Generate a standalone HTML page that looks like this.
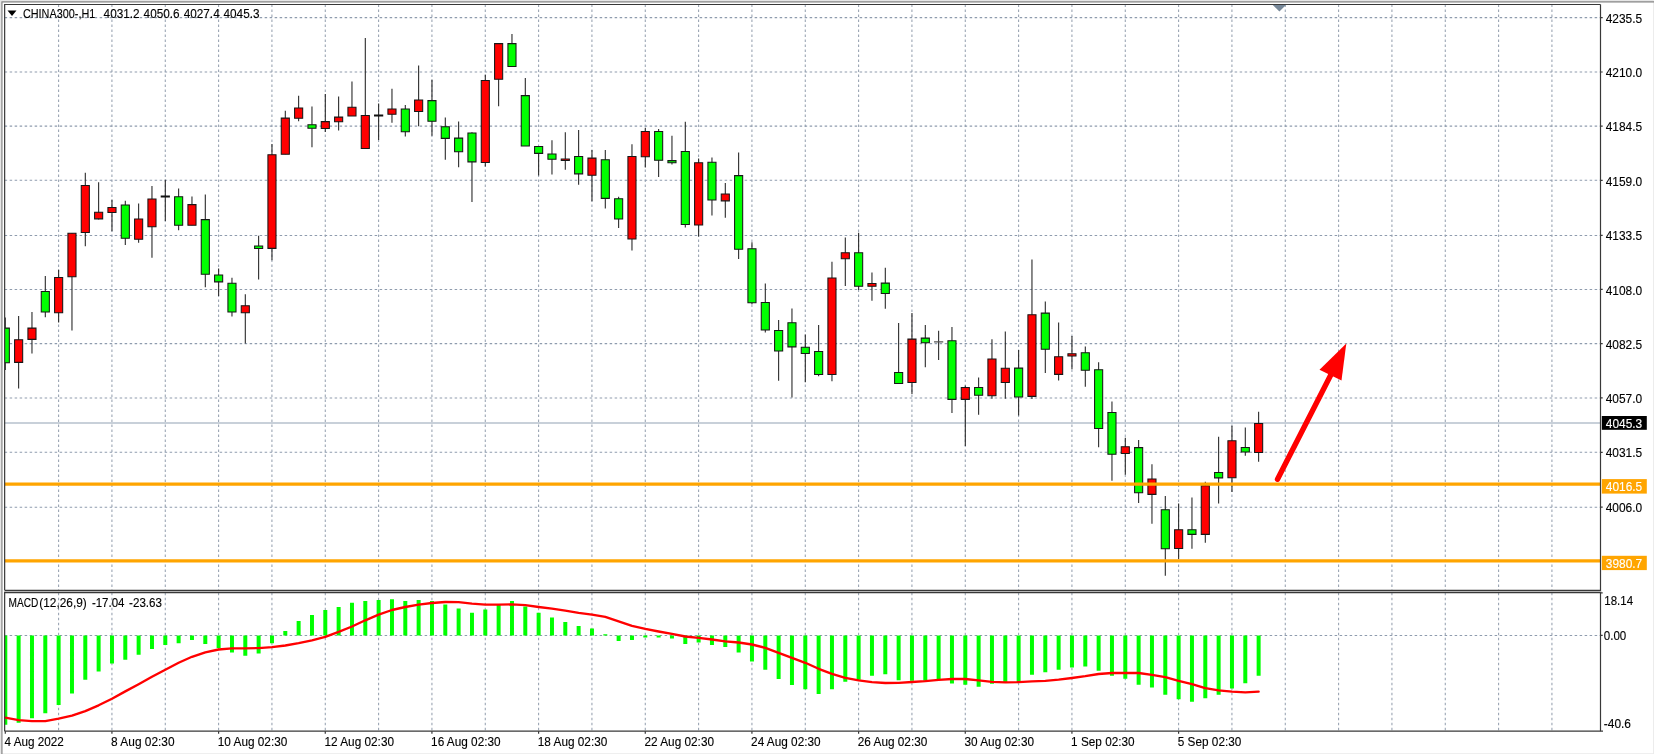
<!DOCTYPE html>
<html lang="en"><head><meta charset="utf-8"><title>CHINA300-,H1</title>
<style>html,body{margin:0;padding:0;background:#fff;overflow:hidden}body{width:1654px;height:754px}svg text{font-family:"Liberation Sans",Arial,sans-serif}</style>
</head><body>
<svg width="1654" height="754" viewBox="0 0 1654 754" style="display:block;filter:blur(0.3px)">
<rect x="0" y="0" width="1654" height="754" fill="#ffffff"/>
<rect x="0" y="0" width="1654" height="1.1" fill="#e6e6e6"/>
<rect x="0" y="0" width="1.1" height="754" fill="#e6e6e6"/>
<rect x="1653" y="0" width="1" height="754" fill="#ececec"/>
<rect x="0" y="753.2" width="1654" height="0.8" fill="#ececec"/>
<path d="M1.9 754 V1.8 H1654" fill="none" stroke="#808080" stroke-width="1.2"/>
<defs><clipPath id="c1"><rect x="4.65" y="4.5" width="1595.85" height="585.85"/></clipPath><clipPath id="c2"><rect x="4.65" y="592.65" width="1595.85" height="138.55000000000007"/></clipPath></defs>
<path d="M58.60 4.5 V590.35M58.60 592.65 V731.2M111.93 4.5 V590.35M111.93 592.65 V731.2M165.27 4.5 V590.35M165.27 592.65 V731.2M218.60 4.5 V590.35M218.60 592.65 V731.2M271.93 4.5 V590.35M271.93 592.65 V731.2M325.27 4.5 V590.35M325.27 592.65 V731.2M378.60 4.5 V590.35M378.60 592.65 V731.2M431.93 4.5 V590.35M431.93 592.65 V731.2M485.27 4.5 V590.35M485.27 592.65 V731.2M538.60 4.5 V590.35M538.60 592.65 V731.2M591.93 4.5 V590.35M591.93 592.65 V731.2M645.27 4.5 V590.35M645.27 592.65 V731.2M698.60 4.5 V590.35M698.60 592.65 V731.2M751.93 4.5 V590.35M751.93 592.65 V731.2M805.27 4.5 V590.35M805.27 592.65 V731.2M858.60 4.5 V590.35M858.60 592.65 V731.2M911.93 4.5 V590.35M911.93 592.65 V731.2M965.27 4.5 V590.35M965.27 592.65 V731.2M1018.60 4.5 V590.35M1018.60 592.65 V731.2M1071.93 4.5 V590.35M1071.93 592.65 V731.2M1125.27 4.5 V590.35M1125.27 592.65 V731.2M1178.60 4.5 V590.35M1178.60 592.65 V731.2M1231.93 4.5 V590.35M1231.93 592.65 V731.2M1285.27 4.5 V590.35M1285.27 592.65 V731.2M1338.60 4.5 V590.35M1338.60 592.65 V731.2M1391.93 4.5 V590.35M1391.93 592.65 V731.2M1445.27 4.5 V590.35M1445.27 592.65 V731.2M1498.60 4.5 V590.35M1498.60 592.65 V731.2M1551.93 4.5 V590.35M1551.93 592.65 V731.2" fill="none" stroke="#96a1b0" stroke-width="1.05" stroke-dasharray="2.6 2.4"/>
<path d="M4.65 17.60 H1600.5M4.65 72.00 H1600.5M4.65 126.10 H1600.5M4.65 180.30 H1600.5M4.65 235.40 H1600.5M4.65 289.40 H1600.5M4.65 343.60 H1600.5M4.65 397.90 H1600.5M4.65 452.30 H1600.5M4.65 507.20 H1600.5M4.65 635.4 H1600.5" fill="none" stroke="#8f9cae" stroke-width="1.05" stroke-dasharray="2.5 2.5"/>
<path d="M4.65 423.05 H1600.5" stroke="#b6c0cc" stroke-width="1.5" fill="none"/>
<g clip-path="url(#c1)">
<path d="M5.30 317.5 V370.0M18.63 315.9 V388.4M31.97 312.1 V353.4M45.30 276.1 V317.2M58.63 269.8 V322.6M71.97 232.9 V330.5M85.30 172.7 V246.2M98.63 182.3 V219.5M111.97 199.8 V231.3M125.30 200.7 V245.0M138.63 203.6 V242.7M151.97 186.1 V257.7M165.30 179.7 V221.1M178.63 188.6 V230.3M191.97 196.6 V225.2M205.30 194.4 V287.3M218.63 268.5 V295.9M231.97 277.7 V316.5M245.30 294.3 V343.6M258.63 235.7 V279.6M271.97 144.1 V260.2M285.30 110.7 V154.3M298.63 95.7 V121.2M311.97 106.5 V147.3M325.30 94.1 V132.0M338.63 96.4 V130.4M351.97 81.4 V116.1M365.30 38.1 V148.5M378.63 103.4 V140.0M391.97 88.7 V122.8M405.30 105.0 V136.5M418.63 65.5 V126.3M431.97 79.8 V135.8M445.30 117.4 V159.7M458.63 121.5 V167.3M471.97 132.3 V202.0M485.30 74.7 V166.4M498.63 43.2 V106.2M511.97 34.0 V67.0M525.30 78.1 V146.1M538.63 146.1 V175.5M551.97 140.2 V174.5M565.30 132.2 V169.8M578.63 130.0 V184.7M591.97 150.0 V201.3M605.30 150.0 V208.6M618.63 196.8 V228.0M631.97 144.3 V250.6M645.30 127.8 V167.5M658.63 129.0 V177.1M671.96 135.7 V164.4M685.30 121.7 V227.4M698.63 158.6 V236.6M711.96 157.4 V215.6M725.30 183.1 V217.8M738.63 152.6 V258.9M751.96 242.3 V304.3M765.30 283.6 V332.6M778.63 319.9 V380.7M791.96 308.4 V397.5M805.30 334.5 V382.3M818.63 325.0 V376.2M831.96 261.7 V381.3M845.30 237.5 V285.9M858.63 232.7 V290.0M871.96 272.5 V300.8M885.30 267.7 V308.8M898.63 323.1 V383.5M911.96 312.9 V394.0M925.30 325.0 V367.3M938.63 330.7 V360.0M951.96 326.9 V413.1M965.30 385.4 V445.9M978.63 377.5 V414.7M991.96 339.2 V398.8M1005.30 331.6 V398.7M1018.63 349.9 V415.4M1031.96 259.5 V398.9M1045.30 301.5 V373.1M1058.63 322.5 V380.4M1071.96 335.9 V369.3M1085.30 346.4 V386.8M1098.63 362.3 V447.3M1111.96 401.5 V480.8M1125.30 437.8 V474.8M1138.63 439.9 V502.9M1151.96 464.2 V523.8M1165.30 496.0 V575.8M1178.63 503.4 V559.1M1191.96 497.6 V548.8M1205.30 481.7 V542.7M1218.63 436.7 V503.4M1231.96 425.8 V492.0M1245.30 427.4 V455.8M1258.63 411.8 V461.7" stroke="#262626" stroke-width="1.08" fill="none"/>
<path d="M160.70 196.6 H169.90M374.03 115.5 H383.23" stroke="#111" stroke-width="2" fill="none"/>
<path d="M934.03 341.9 H943.23" stroke="#555" stroke-width="1.2" fill="none"/>
<path d="M14.58 339.80 H22.68 V362.35 H14.58 ZM27.92 328.10 H36.02 V339.35 H27.92 ZM54.58 277.50 H62.68 V312.65 H54.58 ZM67.92 233.30 H76.02 V276.75 H67.92 ZM81.25 185.50 H89.35 V232.45 H81.25 ZM94.58 212.30 H102.68 V218.85 H94.58 ZM107.92 207.50 H116.02 V212.45 H107.92 ZM134.58 218.90 H142.68 V239.15 H134.58 ZM147.92 198.90 H156.02 V226.75 H147.92 ZM187.92 204.60 H196.02 V225.15 H187.92 ZM241.25 305.80 H249.35 V312.65 H241.25 ZM267.92 154.70 H276.02 V248.35 H267.92 ZM281.25 118.10 H289.35 V154.25 H281.25 ZM294.58 107.90 H302.68 V118.25 H294.58 ZM321.25 121.60 H329.35 V128.45 H321.25 ZM334.58 117.10 H342.68 V121.75 H334.58 ZM347.92 107.30 H356.02 V116.05 H347.92 ZM361.25 115.50 H369.35 V148.45 H361.25 ZM387.92 108.90 H396.02 V114.15 H387.92 ZM414.58 99.90 H422.68 V111.55 H414.58 ZM481.25 80.50 H489.35 V162.45 H481.25 ZM494.58 43.60 H502.68 V79.15 H494.58 ZM561.25 159.00 H569.35 V160.45 H561.25 ZM587.92 158.10 H596.02 V175.15 H587.92 ZM627.92 156.50 H636.02 V239.05 H627.92 ZM641.25 131.40 H649.35 V156.65 H641.25 ZM694.58 162.80 H702.68 V225.05 H694.58 ZM721.25 194.00 H729.35 V200.85 H721.25 ZM827.91 278.00 H836.01 V374.55 H827.91 ZM841.25 252.80 H849.35 V258.75 H841.25 ZM867.91 283.40 H876.01 V286.15 H867.91 ZM907.91 339.10 H916.01 V382.55 H907.91 ZM961.25 387.40 H969.35 V399.35 H961.25 ZM987.91 359.00 H996.01 V395.75 H987.91 ZM1001.25 368.20 H1009.35 V382.55 H1001.25 ZM1027.91 314.70 H1036.01 V396.35 H1027.91 ZM1054.58 356.70 H1062.68 V374.35 H1054.58 ZM1067.91 353.80 H1076.01 V355.95 H1067.91 ZM1121.25 446.70 H1129.35 V453.55 H1121.25 ZM1147.91 478.90 H1156.01 V494.35 H1147.91 ZM1174.58 529.80 H1182.68 V548.45 H1174.58 ZM1201.25 485.80 H1209.35 V534.35 H1201.25 ZM1227.91 440.70 H1236.01 V477.75 H1227.91 ZM1254.58 423.40 H1262.68 V452.55 H1254.58 Z" stroke="#161616" stroke-width="1.05" fill="#ff0000"/>
<path d="M1.25 328.10 H9.35 V362.65 H1.25 ZM41.25 291.50 H49.35 V312.05 H41.25 ZM121.25 204.90 H129.35 V238.25 H121.25 ZM174.58 196.70 H182.68 V225.15 H174.58 ZM201.25 219.60 H209.35 V274.15 H201.25 ZM214.58 274.90 H222.68 V281.85 H214.58 ZM227.92 283.20 H236.02 V312.05 H227.92 ZM254.58 245.90 H262.68 V248.45 H254.58 ZM307.92 124.80 H316.02 V128.15 H307.92 ZM401.25 108.90 H409.35 V131.65 H401.25 ZM427.92 100.60 H436.02 V121.15 H427.92 ZM441.25 126.70 H449.35 V138.35 H441.25 ZM454.58 138.10 H462.68 V151.65 H454.58 ZM467.92 133.00 H476.02 V161.85 H467.92 ZM507.92 43.60 H516.02 V66.45 H507.92 ZM521.25 95.60 H529.35 V146.05 H521.25 ZM534.58 146.50 H542.68 V153.35 H534.58 ZM547.92 153.90 H556.02 V159.25 H547.92 ZM574.58 156.50 H582.68 V173.85 H574.58 ZM601.25 159.70 H609.35 V198.35 H601.25 ZM614.58 198.80 H622.68 V219.05 H614.58 ZM654.58 131.40 H662.68 V160.15 H654.58 ZM667.91 160.60 H676.01 V162.75 H667.91 ZM681.25 151.40 H689.35 V224.45 H681.25 ZM707.91 162.20 H716.01 V199.95 H707.91 ZM734.58 175.60 H742.68 V249.25 H734.58 ZM747.91 248.70 H756.01 V302.65 H747.91 ZM761.25 302.50 H769.35 V330.05 H761.25 ZM774.58 330.50 H782.68 V351.05 H774.58 ZM787.91 322.80 H796.01 V346.85 H787.91 ZM801.25 347.30 H809.35 V353.55 H801.25 ZM814.58 351.50 H822.68 V374.55 H814.58 ZM854.58 252.80 H862.68 V286.15 H854.58 ZM881.25 283.10 H889.35 V293.45 H881.25 ZM894.58 372.50 H902.68 V383.45 H894.58 ZM921.25 338.10 H929.35 V342.75 H921.25 ZM947.91 340.70 H956.01 V399.35 H947.91 ZM974.58 387.40 H982.68 V395.25 H974.58 ZM1014.58 368.10 H1022.68 V396.95 H1014.58 ZM1041.25 313.10 H1049.35 V349.25 H1041.25 ZM1081.25 352.80 H1089.35 V370.25 H1081.25 ZM1094.58 369.70 H1102.68 V428.45 H1094.58 ZM1107.91 412.40 H1116.01 V454.15 H1107.91 ZM1134.58 447.60 H1142.68 V492.75 H1134.58 ZM1161.25 509.70 H1169.35 V548.75 H1161.25 ZM1187.91 529.80 H1196.01 V534.35 H1187.91 ZM1214.58 472.50 H1222.68 V477.85 H1214.58 ZM1241.25 447.50 H1249.35 V451.95 H1241.25 Z" stroke="#161616" stroke-width="1.05" fill="#00ff00"/>
<path d="M4.65 484.2 H1601.5 M4.65 560.8 H1601.5" stroke="#ffa500" stroke-width="3.3" fill="none"/>
<path d="M1277.5 479.3 L1331 374.5" stroke="#ff0000" stroke-width="5.4" stroke-linecap="round" fill="none"/>
<path d="M1346.3 343.4 L1319.5 369.7 L1341.5 380.4 Z" fill="#ff0000"/>
<path d="M1272.8 5 H1286 L1279.4 11.6 Z" fill="#778899"/>
</g>
<g clip-path="url(#c2)">
<path d="M3.30 635.4 H7.30 V724.7 H3.30 ZM16.63 635.4 H20.63 V722.7 H16.63 ZM29.97 635.4 H33.97 V718.3 H29.97 ZM43.30 635.4 H47.30 V713.3 H43.30 ZM56.63 635.4 H60.63 V705.1 H56.63 ZM69.97 635.4 H73.97 V693.4 H69.97 ZM83.30 635.4 H87.30 V679.8 H83.30 ZM96.63 635.4 H100.63 V671.6 H96.63 ZM109.97 635.4 H113.97 V663.4 H109.97 ZM123.30 635.4 H127.30 V659.8 H123.30 ZM136.63 635.4 H140.63 V654.8 H136.63 ZM149.97 635.4 H153.97 V649.1 H149.97 ZM163.30 635.4 H167.30 V644.9 H163.30 ZM176.63 635.4 H180.63 V643.3 H176.63 ZM189.97 635.4 H193.97 V639.9 H189.97 ZM203.30 635.4 H207.30 V644.1 H203.30 ZM216.63 635.4 H220.63 V647.9 H216.63 ZM229.97 635.4 H233.97 V652.6 H229.97 ZM243.30 635.4 H247.30 V655.8 H243.30 ZM256.63 635.4 H260.63 V653.4 H256.63 ZM269.97 635.4 H273.97 V643.3 H269.97 ZM283.30 631.1 H287.30 V635.4 H283.30 ZM296.63 621.1 H300.63 V635.4 H296.63 ZM309.97 615.1 H313.97 V635.4 H309.97 ZM323.30 610.0 H327.30 V635.4 H323.30 ZM336.63 607.0 H340.63 V635.4 H336.63 ZM349.97 602.8 H353.97 V635.4 H349.97 ZM363.30 601.0 H367.30 V635.4 H363.30 ZM376.63 600.0 H380.63 V635.4 H376.63 ZM389.97 599.2 H393.97 V635.4 H389.97 ZM403.30 601.0 H407.30 V635.4 H403.30 ZM416.63 600.0 H420.63 V635.4 H416.63 ZM429.97 601.0 H433.97 V635.4 H429.97 ZM443.30 604.4 H447.30 V635.4 H443.30 ZM456.63 608.4 H460.63 V635.4 H456.63 ZM469.97 612.7 H473.97 V635.4 H469.97 ZM483.30 609.4 H487.30 V635.4 H483.30 ZM496.63 605.0 H500.63 V635.4 H496.63 ZM509.97 601.0 H513.97 V635.4 H509.97 ZM523.30 606.4 H527.30 V635.4 H523.30 ZM536.63 612.7 H540.63 V635.4 H536.63 ZM549.97 617.5 H553.97 V635.4 H549.97 ZM563.30 621.9 H567.30 V635.4 H563.30 ZM576.63 625.9 H580.63 V635.4 H576.63 ZM589.97 628.5 H593.97 V635.4 H589.97 ZM603.30 634.3 H607.30 V635.4 H603.30 ZM616.63 635.4 H620.63 V640.9 H616.63 ZM629.97 635.4 H633.97 V639.9 H629.97 ZM643.30 635.4 H647.30 V637.5 H643.30 ZM656.63 635.4 H660.63 V637.5 H656.63 ZM669.96 635.4 H673.96 V638.5 H669.96 ZM683.30 635.4 H687.30 V644.1 H683.30 ZM696.63 635.4 H700.63 V642.5 H696.63 ZM709.96 635.4 H713.96 V644.9 H709.96 ZM723.30 635.4 H727.30 V646.9 H723.30 ZM736.63 635.4 H740.63 V652.5 H736.63 ZM749.96 635.4 H753.96 V661.4 H749.96 ZM763.30 635.4 H767.30 V669.8 H763.30 ZM776.63 635.4 H780.63 V679.0 H776.63 ZM789.96 635.4 H793.96 V685.0 H789.96 ZM803.30 635.4 H807.30 V689.2 H803.30 ZM816.63 635.4 H820.63 V694.1 H816.63 ZM829.96 635.4 H833.96 V689.2 H829.96 ZM843.30 635.4 H847.30 V681.8 H843.30 ZM856.63 635.4 H860.63 V679.8 H856.63 ZM869.96 635.4 H873.96 V675.8 H869.96 ZM883.30 635.4 H887.30 V674.2 H883.30 ZM896.63 635.4 H900.63 V680.2 H896.63 ZM909.96 635.4 H913.96 V680.8 H909.96 ZM923.30 635.4 H927.30 V680.8 H923.30 ZM936.63 635.4 H940.63 V679.2 H936.63 ZM949.96 635.4 H953.96 V683.4 H949.96 ZM963.30 635.4 H967.30 V684.8 H963.30 ZM976.63 635.4 H980.63 V686.8 H976.63 ZM989.96 635.4 H993.96 V683.8 H989.96 ZM1003.30 635.4 H1007.30 V682.2 H1003.30 ZM1016.63 635.4 H1020.63 V682.2 H1016.63 ZM1029.96 635.4 H1033.96 V674.8 H1029.96 ZM1043.30 635.4 H1047.30 V672.2 H1043.30 ZM1056.63 635.4 H1060.63 V669.8 H1056.63 ZM1069.96 635.4 H1073.96 V667.4 H1069.96 ZM1083.30 635.4 H1087.30 V666.4 H1083.30 ZM1096.63 635.4 H1100.63 V670.8 H1096.63 ZM1109.96 635.4 H1113.96 V675.8 H1109.96 ZM1123.30 635.4 H1127.30 V678.8 H1123.30 ZM1136.63 635.4 H1140.63 V684.8 H1136.63 ZM1149.96 635.4 H1153.96 V687.4 H1149.96 ZM1163.30 635.4 H1167.30 V694.7 H1163.30 ZM1176.63 635.4 H1180.63 V699.3 H1176.63 ZM1189.96 635.4 H1193.96 V701.7 H1189.96 ZM1203.30 635.4 H1207.30 V698.3 H1203.30 ZM1216.63 635.4 H1220.63 V694.7 H1216.63 ZM1229.96 635.4 H1233.96 V688.4 H1229.96 ZM1243.30 635.4 H1247.30 V683.2 H1243.30 ZM1256.63 635.4 H1260.63 V675.8 H1256.63 Z" fill="#00ff00"/>
<polyline points="5.30,717.7 18.63,720.1 31.97,721.1 45.30,721.1 58.63,718.7 71.97,715.7 85.30,711.1 98.63,705.3 111.97,698.7 125.30,691.4 138.63,684.2 151.97,676.8 165.30,669.8 178.63,662.8 191.97,656.8 205.30,652.3 218.63,649.5 231.97,648.3 245.30,648.3 258.63,648.1 271.97,647.1 285.30,645.5 298.63,643.1 311.97,640.3 325.30,636.9 338.63,631.9 351.97,626.5 365.30,620.3 378.63,614.7 391.97,610.0 405.30,607.0 418.63,604.6 431.97,603.0 445.30,602.0 458.63,602.2 471.97,603.6 485.30,604.6 498.63,604.6 511.97,604.4 525.30,605.2 538.63,607.0 551.97,608.6 565.30,610.6 578.63,612.9 591.97,614.7 605.30,616.9 618.63,621.3 631.97,625.9 645.30,628.9 658.63,631.5 671.96,633.9 685.30,636.5 698.63,637.9 711.96,639.5 725.30,641.3 738.63,642.5 751.96,644.5 765.30,647.9 778.63,652.8 791.96,657.8 805.30,662.8 818.63,668.8 831.96,673.8 845.30,677.8 858.63,680.4 871.96,682.2 885.30,683.0 898.63,682.8 911.96,682.0 925.30,681.2 938.63,679.8 951.96,679.0 965.30,679.0 978.63,680.4 991.96,681.8 1005.30,682.4 1018.63,682.2 1031.96,681.4 1045.30,680.8 1058.63,679.6 1071.96,678.0 1085.30,676.2 1098.63,674.0 1111.96,673.0 1125.30,673.0 1138.63,673.0 1151.96,674.8 1165.30,677.2 1178.63,680.8 1191.96,684.2 1205.30,688.2 1218.63,690.4 1231.96,691.6 1245.30,692.4 1258.63,691.6" fill="none" stroke="#ff0000" stroke-width="2.35" stroke-linejoin="round" stroke-linecap="round"/>
</g>
<path d="M4.65 590.35 V4.5 H1600.5" fill="none" stroke="#383838" stroke-width="1.2"/>
<path d="M1600.5 4.5 V731.2" fill="none" stroke="#383838" stroke-width="1.2"/>
<rect x="4.1" y="590.9" width="1597.0" height="1.3" fill="#b4b4b4"/>
<path d="M4.65 590.35 H1600.5" fill="none" stroke="#383838" stroke-width="1.2"/>
<path d="M4.65 731.2 V592.65 H1600.5" fill="none" stroke="#383838" stroke-width="1.2"/>
<path d="M4.65 731.2 H1603.0" fill="none" stroke="#383838" stroke-width="1.2"/>
<path d="M1600.5 17.60 h2.2M1600.5 72.00 h2.2M1600.5 126.10 h2.2M1600.5 180.30 h2.2M1600.5 235.40 h2.2M1600.5 289.40 h2.2M1600.5 343.60 h2.2M1600.5 397.90 h2.2M1600.5 452.30 h2.2M1600.5 507.20 h2.2M1600.5 635.4 h2.2 M1600.5 592.9499999999999 h2.2" stroke="#383838" stroke-width="1.2" fill="none"/>
<path d="M5.30 731.2 v2.6M111.93 731.2 v2.6M218.60 731.2 v2.6M325.27 731.2 v2.6M431.93 731.2 v2.6M538.60 731.2 v2.6M645.27 731.2 v2.6M751.93 731.2 v2.6M858.60 731.2 v2.6M965.27 731.2 v2.6M1071.93 731.2 v2.6M1178.60 731.2 v2.6" stroke="#383838" stroke-width="1.2" fill="none"/>
<text x="1605.7" y="22.8" font-family="Liberation Sans, Arial, sans-serif" font-size="12.3" fill="#000" stroke="#000" stroke-width="0.12" textLength="36.5" lengthAdjust="spacingAndGlyphs" text-anchor="start">4235.5</text>
<text x="1605.7" y="77.1" font-family="Liberation Sans, Arial, sans-serif" font-size="12.3" fill="#000" stroke="#000" stroke-width="0.12" textLength="36.5" lengthAdjust="spacingAndGlyphs" text-anchor="start">4210.0</text>
<text x="1605.7" y="131.4" font-family="Liberation Sans, Arial, sans-serif" font-size="12.3" fill="#000" stroke="#000" stroke-width="0.12" textLength="36.5" lengthAdjust="spacingAndGlyphs" text-anchor="start">4184.5</text>
<text x="1605.7" y="185.5" font-family="Liberation Sans, Arial, sans-serif" font-size="12.3" fill="#000" stroke="#000" stroke-width="0.12" textLength="36.5" lengthAdjust="spacingAndGlyphs" text-anchor="start">4159.0</text>
<text x="1605.7" y="240.4" font-family="Liberation Sans, Arial, sans-serif" font-size="12.3" fill="#000" stroke="#000" stroke-width="0.12" textLength="36.5" lengthAdjust="spacingAndGlyphs" text-anchor="start">4133.5</text>
<text x="1605.7" y="294.6" font-family="Liberation Sans, Arial, sans-serif" font-size="12.3" fill="#000" stroke="#000" stroke-width="0.12" textLength="36.5" lengthAdjust="spacingAndGlyphs" text-anchor="start">4108.0</text>
<text x="1605.7" y="348.8" font-family="Liberation Sans, Arial, sans-serif" font-size="12.3" fill="#000" stroke="#000" stroke-width="0.12" textLength="36.5" lengthAdjust="spacingAndGlyphs" text-anchor="start">4082.5</text>
<text x="1605.7" y="402.8" font-family="Liberation Sans, Arial, sans-serif" font-size="12.3" fill="#000" stroke="#000" stroke-width="0.12" textLength="36.5" lengthAdjust="spacingAndGlyphs" text-anchor="start">4057.0</text>
<text x="1605.7" y="456.9" font-family="Liberation Sans, Arial, sans-serif" font-size="12.3" fill="#000" stroke="#000" stroke-width="0.12" textLength="36.5" lengthAdjust="spacingAndGlyphs" text-anchor="start">4031.5</text>
<text x="1605.7" y="511.7" font-family="Liberation Sans, Arial, sans-serif" font-size="12.3" fill="#000" stroke="#000" stroke-width="0.12" textLength="36.5" lengthAdjust="spacingAndGlyphs" text-anchor="start">4006.0</text>
<rect x="1601.8" y="416.0" width="45" height="13.8" fill="#000000"/>
<text x="1605.8" y="427.8" font-family="Liberation Sans, Arial, sans-serif" font-size="12.3" fill="#ffffff" stroke="#ffffff" stroke-width="0.12" textLength="36.4" lengthAdjust="spacingAndGlyphs" text-anchor="start">4045.3</text>
<rect x="1601.8" y="479.1" width="45" height="14.5" fill="#ffa500"/>
<text x="1605.8" y="491.1" font-family="Liberation Sans, Arial, sans-serif" font-size="12.3" fill="#ffffff" stroke="#ffffff" stroke-width="0.12" textLength="36.4" lengthAdjust="spacingAndGlyphs" text-anchor="start">4016.5</text>
<rect x="1601.8" y="555.8" width="45" height="14.3" fill="#ffa500"/>
<text x="1605.8" y="567.8" font-family="Liberation Sans, Arial, sans-serif" font-size="12.3" fill="#ffffff" stroke="#ffffff" stroke-width="0.12" textLength="36.4" lengthAdjust="spacingAndGlyphs" text-anchor="start">3980.7</text>
<text x="1604.3" y="605.2" font-family="Liberation Sans, Arial, sans-serif" font-size="12.3" fill="#000" stroke="#000" stroke-width="0.12" textLength="28.8" lengthAdjust="spacingAndGlyphs" text-anchor="start">18.14</text>
<text x="1603.8" y="640.3" font-family="Liberation Sans, Arial, sans-serif" font-size="12.3" fill="#000" stroke="#000" stroke-width="0.12" textLength="22.5" lengthAdjust="spacingAndGlyphs" text-anchor="start">0.00</text>
<text x="1603.8" y="727.9" font-family="Liberation Sans, Arial, sans-serif" font-size="12.3" fill="#000" stroke="#000" stroke-width="0.12" textLength="27.2" lengthAdjust="spacingAndGlyphs" text-anchor="start">-40.6</text>
<path d="M7.5 10.6 H16.5 L12 15.9 Z" fill="#000"/>
<text x="22.9" y="17.9" font-family="Liberation Sans, Arial, sans-serif" font-size="12.3" fill="#000" stroke="#000" stroke-width="0.12" textLength="72.5" lengthAdjust="spacingAndGlyphs" text-anchor="start">CHINA300-,H1</text>
<text x="103.6" y="17.9" font-family="Liberation Sans, Arial, sans-serif" font-size="12.3" fill="#000" stroke="#000" stroke-width="0.12" textLength="36" lengthAdjust="spacingAndGlyphs" text-anchor="start">4031.2</text>
<text x="143.6" y="17.9" font-family="Liberation Sans, Arial, sans-serif" font-size="12.3" fill="#000" stroke="#000" stroke-width="0.12" textLength="36" lengthAdjust="spacingAndGlyphs" text-anchor="start">4050.6</text>
<text x="183.7" y="17.9" font-family="Liberation Sans, Arial, sans-serif" font-size="12.3" fill="#000" stroke="#000" stroke-width="0.12" textLength="36" lengthAdjust="spacingAndGlyphs" text-anchor="start">4027.4</text>
<text x="223.5" y="17.9" font-family="Liberation Sans, Arial, sans-serif" font-size="12.3" fill="#000" stroke="#000" stroke-width="0.12" textLength="36" lengthAdjust="spacingAndGlyphs" text-anchor="start">4045.3</text>
<text x="8.5" y="607" font-family="Liberation Sans, Arial, sans-serif" font-size="12.3" fill="#000" stroke="#000" stroke-width="0.12" textLength="29.8" lengthAdjust="spacingAndGlyphs" text-anchor="start">MACD</text>
<text x="39.3" y="607" font-family="Liberation Sans, Arial, sans-serif" font-size="12.3" fill="#000" stroke="#000" stroke-width="0.12" textLength="47.5" lengthAdjust="spacingAndGlyphs" text-anchor="start">(12,26,9)</text>
<text x="91.9" y="607" font-family="Liberation Sans, Arial, sans-serif" font-size="12.3" fill="#000" stroke="#000" stroke-width="0.12" textLength="32.6" lengthAdjust="spacingAndGlyphs" text-anchor="start">-17.04</text>
<text x="129.1" y="607" font-family="Liberation Sans, Arial, sans-serif" font-size="12.3" fill="#000" stroke="#000" stroke-width="0.12" textLength="32.9" lengthAdjust="spacingAndGlyphs" text-anchor="start">-23.63</text>
<text x="4.5" y="745.8" font-family="Liberation Sans, Arial, sans-serif" font-size="12.3" fill="#000" stroke="#000" stroke-width="0.12" textLength="59.3" lengthAdjust="spacingAndGlyphs" text-anchor="start">4 Aug 2022</text>
<text x="111.1" y="745.8" font-family="Liberation Sans, Arial, sans-serif" font-size="12.3" fill="#000" stroke="#000" stroke-width="0.12" textLength="63.5" lengthAdjust="spacingAndGlyphs" text-anchor="start">8 Aug 02:30</text>
<text x="217.8" y="745.8" font-family="Liberation Sans, Arial, sans-serif" font-size="12.3" fill="#000" stroke="#000" stroke-width="0.12" textLength="69.5" lengthAdjust="spacingAndGlyphs" text-anchor="start">10 Aug 02:30</text>
<text x="324.5" y="745.8" font-family="Liberation Sans, Arial, sans-serif" font-size="12.3" fill="#000" stroke="#000" stroke-width="0.12" textLength="69.5" lengthAdjust="spacingAndGlyphs" text-anchor="start">12 Aug 02:30</text>
<text x="431.1" y="745.8" font-family="Liberation Sans, Arial, sans-serif" font-size="12.3" fill="#000" stroke="#000" stroke-width="0.12" textLength="69.5" lengthAdjust="spacingAndGlyphs" text-anchor="start">16 Aug 02:30</text>
<text x="537.8" y="745.8" font-family="Liberation Sans, Arial, sans-serif" font-size="12.3" fill="#000" stroke="#000" stroke-width="0.12" textLength="69.5" lengthAdjust="spacingAndGlyphs" text-anchor="start">18 Aug 02:30</text>
<text x="644.5" y="745.8" font-family="Liberation Sans, Arial, sans-serif" font-size="12.3" fill="#000" stroke="#000" stroke-width="0.12" textLength="69.5" lengthAdjust="spacingAndGlyphs" text-anchor="start">22 Aug 02:30</text>
<text x="751.1" y="745.8" font-family="Liberation Sans, Arial, sans-serif" font-size="12.3" fill="#000" stroke="#000" stroke-width="0.12" textLength="69.5" lengthAdjust="spacingAndGlyphs" text-anchor="start">24 Aug 02:30</text>
<text x="857.8" y="745.8" font-family="Liberation Sans, Arial, sans-serif" font-size="12.3" fill="#000" stroke="#000" stroke-width="0.12" textLength="69.5" lengthAdjust="spacingAndGlyphs" text-anchor="start">26 Aug 02:30</text>
<text x="964.5" y="745.8" font-family="Liberation Sans, Arial, sans-serif" font-size="12.3" fill="#000" stroke="#000" stroke-width="0.12" textLength="69.5" lengthAdjust="spacingAndGlyphs" text-anchor="start">30 Aug 02:30</text>
<text x="1071.1" y="745.8" font-family="Liberation Sans, Arial, sans-serif" font-size="12.3" fill="#000" stroke="#000" stroke-width="0.12" textLength="63.5" lengthAdjust="spacingAndGlyphs" text-anchor="start">1 Sep 02:30</text>
<text x="1177.8" y="745.8" font-family="Liberation Sans, Arial, sans-serif" font-size="12.3" fill="#000" stroke="#000" stroke-width="0.12" textLength="63.5" lengthAdjust="spacingAndGlyphs" text-anchor="start">5 Sep 02:30</text>
</svg>
</body></html>
